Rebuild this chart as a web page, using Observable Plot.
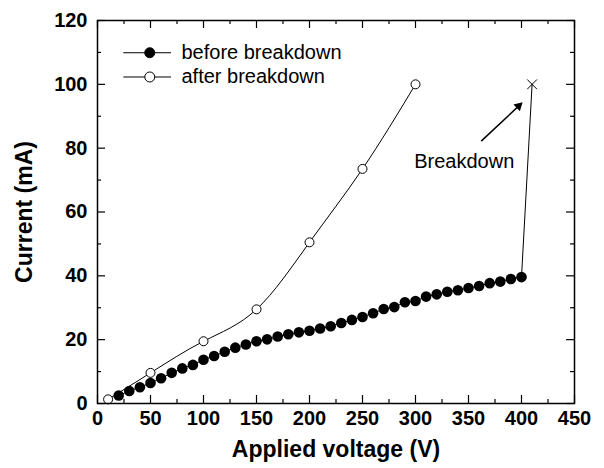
<!DOCTYPE html>
<html><head><meta charset="utf-8">
<script src="https://cdn.jsdelivr.net/npm/d3@7"></script>
<script src="https://cdn.jsdelivr.net/npm/@observablehq/plot@0.6"></script>
<style>body{margin:0;background:#fff}</style>
</head><body><div id="chart"></div>
<script>
const beforeVolts = [20,30,40,50,60,70,80,90,100,110,120,130,140,150,160,170,180,190,200,210,220,230,240,250,260,270,280,290,300,310,320,330,340,350,360,370,380,390,400];
const beforeCurrent = [2.5,3.9,5.1,6.4,7.9,9.6,11.0,12.1,13.7,14.9,16.2,17.5,18.5,19.5,20.1,21.0,21.7,22.3,22.8,23.5,24.2,25.2,26.2,27.1,28.3,29.6,30.2,31.7,32.1,33.5,34.2,35.0,35.5,36.2,36.8,37.7,38.2,39.0,39.6];
const afterVolts = [10,50,100,150,200,250,300];
const afterCurrent = [1.3,9.6,19.5,29.5,50.5,73.5,100];
const breakdownVolt = 410;
const breakdownCurrent = 100;
const xTicks = [0,50,100,150,200,250,300,350,400,450];
const yTicks = [0,20,40,60,80,100,120];
const legendLabels = ["before breakdown","after breakdown"];

const before = beforeVolts.map((v,i)=>({x:v,y:beforeCurrent[i]}));
const after = afterVolts.map((v,i)=>({x:v,y:afterCurrent[i]}));
const jump = [before[before.length-1], {x:breakdownVolt,y:breakdownCurrent}];

const W=604,H=468, mL=97,mR=30,mT=20,mB=65;
const pw=W-mL-mR, ph=H-mT-mB;
const xMinor = d3.range(25,450,50);
const yMinor = d3.range(10,120,20);

const legend = [
  {label:legendLabels[0], y:109.9, fill:"black"},
  {label:legendLabels[1], y:102.3, fill:"white"}
];
const arrowLine = [{x1:362,y1:82.2,x2:398,y2:93.4}];
const arrowHead = [{x:397.3,y:93.2}];

const plot = Plot.plot({
  width:W,height:H,marginLeft:mL,marginRight:mR,marginTop:mT,marginBottom:mB,
  style:{fontFamily:"'Liberation Sans', Arial, sans-serif",color:"black",background:"white"},
  x:{domain:[0,450]},
  y:{domain:[0,120]},
  marks:[
    Plot.tickX(xTicks,{x:d=>d,insetTop:ph-8,stroke:"black",strokeWidth:1.2}),
    Plot.tickX(xMinor,{x:d=>d,insetTop:ph-4,stroke:"black",strokeWidth:1.2}),
    Plot.tickX(xTicks,{x:d=>d,insetBottom:ph-8,stroke:"black",strokeWidth:1.2}),
    Plot.tickX(xMinor,{x:d=>d,insetBottom:ph-4,stroke:"black",strokeWidth:1.2}),
    Plot.tickY(yTicks,{y:d=>d,insetRight:pw-8,stroke:"black",strokeWidth:1.2}),
    Plot.tickY(yMinor,{y:d=>d,insetRight:pw-4,stroke:"black",strokeWidth:1.2}),
    Plot.tickY(yTicks,{y:d=>d,insetLeft:pw-8,stroke:"black",strokeWidth:1.2}),
    Plot.tickY(yMinor,{y:d=>d,insetLeft:pw-4,stroke:"black",strokeWidth:1.2}),
    Plot.axisX({ticks:xTicks,tickSize:0,tickPadding:7,fontSize:20,fontWeight:"bold",label:null}),
    Plot.axisY({ticks:yTicks,tickSize:0,tickPadding:10,fontSize:20,fontWeight:"bold",label:null}),
    Plot.axisX({ticks:[],label:"Applied voltage (V)",labelAnchor:"center",labelArrow:"none",labelOffset:53,fontSize:23,fontWeight:"bold"}),
    Plot.axisY({ticks:[],label:"Current (mA)",labelAnchor:"center",labelArrow:"none",labelOffset:82,fontSize:23,fontWeight:"bold"}),
    Plot.line(after,{x:"x",y:"y",curve:"natural",stroke:"black",strokeWidth:1}),
    Plot.dot(after,{x:"x",y:"y",r:4.5,fill:"white",stroke:"black",strokeWidth:1}),
    Plot.line(before,{x:"x",y:"y",stroke:"black",strokeWidth:1}),
    Plot.line(jump,{x:"x",y:"y",stroke:"black",strokeWidth:1}),
    Plot.dot(before,{x:"x",y:"y",r:5.3,fill:"black",stroke:"none"}),
    Plot.dot([jump[1]],{x:"x",y:"y",symbol:"times",r:4.5,stroke:"black",strokeWidth:1}),
    Plot.link(arrowLine,{x1:"x1",y1:"y1",x2:"x2",y2:"y2",stroke:"black",strokeWidth:1.5}),
    Plot.dot(arrowHead,{x:"x",y:"y",symbol:"triangle2",r:4.5,rotate:46.7,fill:"black",stroke:"none"}),
    Plot.text(["Breakdown"],{x:346,y:75.8,text:d=>d,fontSize:20,fill:"black"}),
    Plot.ruleY(legend,{y:"y",x1:24.8,x2:69.8,stroke:"black",strokeWidth:1}),
    Plot.dot(legend,{x:49.3,y:"y",r:5,fill:"fill",stroke:"black",strokeWidth:1}),
    Plot.text(legend,{x:79.2,y:"y",text:"label",textAnchor:"start",fontSize:20,fill:"black"}),
    Plot.frame({stroke:"black",strokeWidth:1.5})
  ]
});
document.getElementById("chart").append(plot);
</script></body></html>
